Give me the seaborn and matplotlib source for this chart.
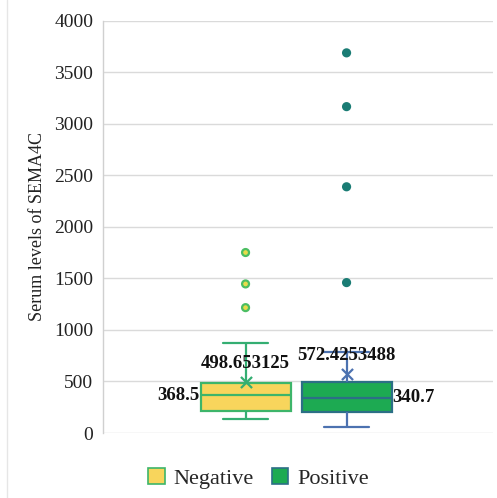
import matplotlib
matplotlib.use("Agg")
import matplotlib.pyplot as plt
import numpy as np
import pandas as pd
import seaborn as sns
from matplotlib.lines import Line2D
from matplotlib.patches import Patch

# five-number summaries (whisker low, Q1, median, Q3, whisker high)
groups = ["Negative", "Positive"]
negative_summary = [133, 216, 368.5, 484, 877]
positive_summary = [62, 208, 340.7, 497, 790]
means = [498.653125, 572.4253488]
mean_labels = ["498.653125", "572.4253488"]
median_labels = ["368.5", "340.7"]
negative_outliers = [1217, 1447, 1752]
positive_outliers = [1460, 2390, 3168, 3690]

box_fill = {"Negative": "#F8D55C", "Positive": "#1DAA52"}
box_edge = {"Negative": "#3DB56A", "Positive": "#2C6F86"}
whisker_color = {"Negative": "#34AE72", "Positive": "#4C72B0"}
flier_face = {"Negative": "#E8DC4A", "Positive": "#1A7C74"}
flier_edge = {"Negative": "#4CBE62", "Positive": "#1A7C74"}

box_df = pd.DataFrame({
    "cat": "all",
    "group": ["Negative"] * 5 + ["Positive"] * 5,
    "value": negative_summary + positive_summary,
})
out_df = pd.DataFrame({
    "cat": "all",
    "group": ["Negative"] * len(negative_outliers) + ["Positive"] * len(positive_outliers),
    "value": negative_outliers + positive_outliers,
})
mean_df = pd.DataFrame({"cat": "all", "group": groups, "value": means})

sns.set_theme(style="white")
plt.rcParams["font.family"] = ["Liberation Serif", "DejaVu Serif"]

fig = plt.figure(figsize=(4.97, 4.98), dpi=100)
ax = fig.add_axes([0.207, 0.1305, 0.785, 0.8275])
ax.yaxis.grid(True, color="#DADADA", linewidth=1.0)
ax.set_axisbelow(True)

for g in groups:
    sub = box_df[box_df["group"] == g]
    sns.boxplot(
        data=sub, x="cat", y="value", hue="group", hue_order=groups,
        palette=box_fill, saturation=1, width=0.8, gap=0.11, dodge=True,
        whis=(0, 100), showfliers=False, linewidth=1.6, linecolor=box_edge[g],
        whiskerprops={"color": whisker_color[g]},
        capprops={"color": whisker_color[g]},
        medianprops={"color": box_edge[g]},
        legend=False, ax=ax,
    )

for g in groups:
    sns.stripplot(
        data=out_df[out_df["group"] == g], x="cat", y="value", hue="group",
        hue_order=groups, palette={k: flier_face[g] for k in groups},
        dodge=True, jitter=False, size=5, linewidth=1.6,
        edgecolor=flier_edge[g], legend=False, ax=ax, zorder=4,
    )
    sns.stripplot(
        data=mean_df[mean_df["group"] == g], x="cat", y="value", hue="group",
        hue_order=groups, palette={k: whisker_color[g] for k in groups},
        dodge=True, jitter=False, marker="x", size=8, linewidth=1.6,
        legend=False, ax=ax, zorder=5,
    )

# data labels
offsets = [-0.2, 0.2]
half_box = 0.178
label_font = {"fontsize": 13.5, "fontweight": "bold", "color": "#111111"}
for i in range(len(groups)):
    ax.text(offsets[i], means[i] + 95, mean_labels[i], ha="center", va="bottom", **label_font)
ax.text(offsets[0] - half_box - 0.005, 368.5, median_labels[0], ha="right", va="center", **label_font)
ax.text(offsets[1] + half_box + 0.003, 340.7, median_labels[1], ha="left", va="center", **label_font)

ax.set_xlim(-0.765, 0.78)
ax.set_ylim(0, 4000)
ax.set_yticks(np.arange(0, 4001, 500))
ax.tick_params(axis="y", labelsize=14, pad=7, length=0, labelcolor="#222222")
ax.set_xticks([])
ax.set_xlabel("")
ax.set_ylabel("Serum levels of SEMA4C", fontsize=13, labelpad=6, color="#222222")
for side in ["top", "right", "bottom"]:
    ax.spines[side].set_visible(False)
ax.spines["left"].set_color("#D0D0D0")
ax.spines["left"].set_linewidth(1.0)

handles = [Patch(facecolor=box_fill[g], edgecolor=box_edge[g], linewidth=1.2, label=g) for g in groups]
fig.legend(handles=handles, loc="center", bbox_to_anchor=(0.52, 0.04), ncol=2,
           frameon=False, fontsize=16, handlelength=0.75, handleheight=0.75,
           handletextpad=0.4, columnspacing=0.8)

fig.add_artist(Line2D([0.014, 0.014], [0.0, 1.0], color="#E6E6E6", linewidth=1.0, transform=fig.transFigure))

fig.savefig("out.png", dpi=100)
